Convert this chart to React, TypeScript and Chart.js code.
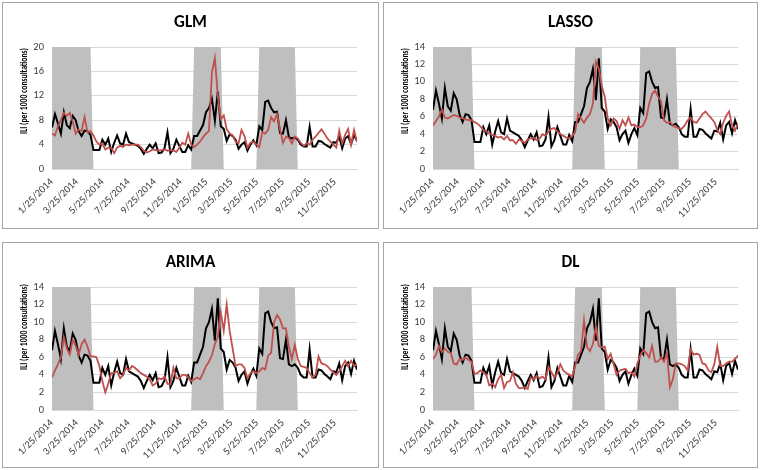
import React, { useEffect, useRef } from 'react';
import { Chart, registerables } from 'chart.js';

Chart.register(...registerables);

// ---------- data ----------
const START_DATE = '1/25/2014';
const WEEK_DAYS = 7;
const TICK_LABELS = [
  '1/25/2014', '3/25/2014', '5/25/2014', '7/25/2014', '9/25/2014', '11/25/2014',
  '1/25/2015', '3/25/2015', '5/25/2015', '7/25/2015', '9/25/2015', '11/25/2015',
];
const Y_TITLE = 'ILI (per 1000 consultations)';

const OBSERVED = [
  6.8, 9.0, 7.5, 5.8, 9.3, 7.2, 6.7, 8.7, 8.0, 6.2, 5.4, 6.3, 6.2, 5.6,
  3.1, 3.1, 3.1,
  4.8, 4.0, 5.0, 2.8, 4.3, 5.5, 4.2, 4.0, 5.8, 4.4, 4.2, 4.0, 3.8, 3.3, 2.5, 3.3,
  4.0, 3.4, 4.2, 2.6, 2.7, 3.4, 6.0, 2.6, 3.3, 4.8, 3.8, 2.8, 2.8, 3.9, 3.2,
  5.4, 5.4, 6.3, 7.2, 9.3, 10.0, 11.5, 7.9, 12.7, 7.0, 6.6, 4.6, 5.7, 5.4, 4.8,
  3.3, 4.0, 4.4, 3.0, 4.0, 4.7, 3.9, 7.0, 6.4, 11.0, 11.2, 10.0, 9.3, 9.4, 5.9,
  5.8, 8.0, 5.2, 5.0, 5.2, 4.8, 4.0, 3.7, 3.7, 6.9, 3.7, 3.7, 4.6, 4.5, 4.1, 3.8,
  3.5, 4.4, 4.3, 5.3, 3.4, 5.0, 5.4, 4.1, 5.6, 4.6,
];

const GLM = [
  5.8, 5.5, 7.0, 8.0, 9.2, 8.7, 9.2, 7.8, 5.8, 6.5, 6.2, 8.5, 6.0, 6.2,
  5.5, 4.5, 4.0, 4.2, 3.2, 3.5, 3.5, 2.6, 3.5, 3.8, 3.6, 4.0, 3.9, 4.0, 4.0, 4.0,
  3.6, 3.0, 2.7, 2.9, 3.2, 3.1, 3.0, 3.1, 3.2, 3.0, 3.1, 3.0, 2.8, 3.5, 4.3, 4.0,
  5.8, 4.0, 3.6, 4.0, 4.5, 5.2, 5.8, 6.2, 15.8, 18.2, 12.0, 8.2, 8.8, 6.5, 5.8,
  5.5, 4.5, 4.2, 6.4, 5.4, 3.5, 4.3, 4.5, 4.0, 3.6, 6.0, 5.8, 6.4, 8.5, 7.8, 9.0,
  6.5, 4.3, 5.3, 5.1, 4.2, 5.3, 5.0, 4.3, 3.8, 4.2, 4.0, 4.8, 5.3, 5.9, 6.5, 5.8,
  5.0, 4.5, 4.0, 3.5, 6.3, 4.2, 5.6, 6.6, 4.0, 6.4, 4.4,
];

const LASSO = [
  5.0, 5.5, 6.0, 6.8, 5.9, 5.8, 6.0, 6.2, 6.1, 5.9, 5.8, 5.7, 5.6, 5.6,
  5.4, 5.2, 4.9, 4.5, 4.3, 4.1, 3.9, 3.8, 3.6, 3.7, 3.4, 3.8, 3.3, 3.3, 2.9, 3.4,
  3.2, 3.0, 3.4, 3.5, 3.6, 3.3, 3.5, 4.0, 3.8, 4.3, 4.6, 4.7, 4.3, 4.0, 3.8, 3.6,
  3.5, 3.8, 4.2, 6.3, 5.8, 5.3, 5.9, 6.3, 7.5, 12.3, 11.5, 9.5, 8.3, 5.8, 5.0,
  5.8, 5.5, 4.6, 5.6, 5.0, 5.9, 5.0, 5.1, 4.8, 4.8, 5.0, 5.8, 7.5, 8.6, 9.0, 8.3,
  7.8, 5.6, 5.3, 5.4, 5.0, 4.8, 4.7, 4.6, 5.0, 5.6, 5.9, 5.4, 5.3, 5.8, 6.3, 6.6,
  6.2, 5.8, 5.4, 4.5, 4.0, 5.3, 6.1, 6.6, 5.0, 4.4, 5.2,
];

const ARIMA = [
  3.7, 4.5, 5.2, 6.0, 8.3, 7.0, 6.3, 8.0, 7.3, 6.3, 7.5, 8.0, 7.2, 6.1,
  6.1, 6.0, 5.0, 3.3, 2.0, 3.0, 4.2, 4.2, 4.4, 3.6, 4.0, 4.8, 4.5, 5.0, 4.8, 4.5,
  4.2, 4.0, 3.8, 3.5, 2.8, 3.0, 3.6, 3.5, 3.8, 3.0, 2.9, 4.8, 3.6, 3.6, 4.0, 4.0,
  3.7, 3.3, 3.5, 3.7, 3.5, 4.2, 5.0, 5.5, 6.2, 7.5, 8.3, 11.1, 9.0, 12.0, 9.0,
  7.0, 5.0, 5.2, 5.2, 4.8, 3.6, 4.2, 4.4, 4.2, 4.4, 4.8, 4.6, 6.2, 6.5, 10.0, 10.8,
  10.3, 9.3, 9.3, 7.2, 5.8, 7.4, 5.8, 5.0, 4.9, 4.8, 4.2, 3.7, 4.0, 6.1, 5.3, 5.2,
  5.0, 4.6, 4.3, 4.0, 4.4, 5.0, 5.6, 5.0, 5.6, 5.0, 5.2,
];

const DL = [
  5.8, 6.3, 7.3, 6.6, 7.0, 6.6, 6.5, 5.3, 5.2, 5.8, 5.7, 6.0, 5.7, 5.5,
  4.1, 4.2, 4.5, 4.3, 4.0, 2.8, 3.0, 2.6, 3.5, 4.0, 2.5, 3.2, 3.3, 4.3, 3.0, 2.5,
  2.5, 2.6, 2.4, 3.7, 3.5, 3.9, 3.6, 3.8, 3.5, 4.9, 4.3, 3.7, 4.2, 5.2, 4.5, 4.2,
  4.0, 3.8, 5.0, 6.3, 6.7, 10.2, 7.2, 6.7, 7.5, 9.5, 7.3, 7.1, 7.2, 5.8, 6.4,
  5.2, 4.0, 4.5, 4.6, 4.7, 4.2, 4.3, 3.8, 5.3, 6.2, 6.8, 6.5, 6.0, 7.3, 5.5, 5.5,
  6.0, 5.5, 6.5, 2.6, 3.5, 5.3, 5.3, 5.2, 5.0, 4.5, 6.9, 6.3, 6.4, 6.3, 5.3, 5.2,
  4.5, 4.3, 5.2, 7.2, 5.0, 5.0, 5.3, 5.5, 5.5, 5.8, 6.2,
];

// 1 = influenza season week (shaded), 0 = off season
const SEASON = [
  1, 1, 1, 1, 1, 1, 1, 1, 1, 1, 1, 1, 1, 1,
  0, 0, 0, 0, 0, 0, 0, 0, 0, 0, 0, 0, 0, 0, 0, 0, 0, 0, 0, 0,
  0, 0, 0, 0, 0, 0, 0, 0, 0, 0, 0, 0, 0, 0,
  1, 1, 1, 1, 1, 1, 1, 1, 1, 1,
  0, 0, 0, 0, 0, 0, 0, 0, 0, 0, 0, 0,
  1, 1, 1, 1, 1, 1, 1, 1, 1, 1, 1, 1, 1,
  0, 0, 0, 0, 0, 0, 0, 0, 0, 0, 0, 0, 0, 0, 0, 0, 0, 0, 0, 0, 0,
];

const PANEL_TITLES = ['GLM', 'LASSO', 'ARIMA', 'DL'];
const PANEL_PREDICTIONS = [GLM, LASSO, ARIMA, DL];
const PANEL_YMAX = [20, 14, 14, 14];

// ---------- layout / style ----------
const FONT = 'Carlito, Calibri, Lato, sans-serif';
const LAYOUT = [
  { left: 2, top: 2, width: 377, height: 227, plotBottom: 166, yTitleY: 88 },
  { left: 383, top: 2, width: 375, height: 227, plotBottom: 166, yTitleY: 88 },
  { left: 2, top: 242, width: 377, height: 226, plotBottom: 167, yTitleY: 84 },
  { left: 383, top: 242, width: 375, height: 226, plotBottom: 167, yTitleY: 84 },
];

const parseDay = (s: string) => {
  const [m, d, y] = s.split('/').map(Number);
  return Date.UTC(y, m - 1, d) / 86400000;
};
const BASE_DAY = parseDay(START_DATE);
const TICK_DAYS = TICK_LABELS.map((l) => parseDay(l) - BASE_DAY);

const textPlugin = {
  id: 'panelText',
  afterDraw(chart: any, _args: any, opts: any) {
    const ctx = chart.ctx;
    ctx.save();
    ctx.fillStyle = '#000';
    ctx.textAlign = 'center';
    ctx.textBaseline = 'middle';
    ctx.font = `bold 17px ${FONT}`;
    ctx.fillText(opts.title, chart.width / 2, 20);
    ctx.translate(21, opts.yTitleY);
    ctx.rotate(-Math.PI / 2);
    ctx.font = `bold 10px ${FONT}`;
    ctx.fillText(Y_TITLE, 0, 0, 86);
    ctx.restore();
  },
};

function Panel({ index }: { index: number }) {
  const ref = useRef<HTMLCanvasElement | null>(null);
  const lay = LAYOUT[index];
  const cw = lay.width - 2;
  const ch = lay.height - 2;
  useEffect(() => {
    if (!ref.current) return;
    const yMax = PANEL_YMAX[index];
    const toPts = (arr: number[]) => arr.map((v, i) => ({ x: i * WEEK_DAYS, y: v }));
    const lastDay = (OBSERVED.length - 1) * WEEK_DAYS;
    const chart = new Chart(ref.current, {
      type: 'line',
      data: {
        datasets: [
          {
            data: toPts(PANEL_PREDICTIONS[index]),
            borderColor: '#c0504d',
            borderWidth: 1.8,
            pointRadius: 0,
            tension: 0,
            fill: false,
          },
          {
            data: toPts(OBSERVED),
            borderColor: '#000000',
            borderWidth: 2,
            pointRadius: 0,
            tension: 0,
            fill: false,
          },
          {
            data: toPts(SEASON.map((f) => f * yMax)),
            borderWidth: 0,
            borderColor: 'rgba(0,0,0,0)',
            backgroundColor: '#bfbfbf',
            pointRadius: 0,
            tension: 0,
            fill: 'origin',
          },
        ],
      },
      options: {
        responsive: false,
        animation: false,
        devicePixelRatio: 1,
        layout: { padding: { top: 44, right: cw - 354, left: 0, bottom: 0 } },
        plugins: {
          legend: { display: false },
          tooltip: { enabled: false },
          panelText: { title: PANEL_TITLES[index], yTitleY: lay.yTitleY },
        } as any,
        scales: {
          x: {
            type: 'linear',
            min: 0,
            max: lastDay,
            afterBuildTicks: (s: any) => {
              s.ticks = TICK_DAYS.map((v) => ({ value: v }));
            },
            afterFit: (s: any) => {
              s.height = ch - lay.plotBottom;
            },
            ticks: {
              autoSkip: false,
              maxRotation: 45,
              minRotation: 45,
              padding: 7,
              color: '#404040',
              font: { size: 10.5, family: FONT },
              callback: (v: any) => {
                const i = TICK_DAYS.indexOf(Number(v));
                return i >= 0 ? TICK_LABELS[i] : '';
              },
            },
            grid: { display: false, drawTicks: false },
            border: { display: true, color: '#d9d9d9' },
          },
          y: {
            min: 0,
            max: yMax,
            afterFit: (s: any) => {
              s.width = 49;
            },
            ticks: {
              stepSize: 2,
              padding: 8,
              color: '#404040',
              font: { size: 10.5, family: FONT },
            },
            grid: { color: '#d9d9d9', drawTicks: false },
            border: { display: false },
          },
        },
      },
      plugins: [textPlugin],
    } as any);
    return () => chart.destroy();
  }, [index]);
  return (
    <div
      style={{
        position: 'absolute',
        left: lay.left,
        top: lay.top,
        width: lay.width,
        height: lay.height,
        boxSizing: 'border-box',
        border: '1px solid #a6a6a6',
        background: '#fff',
      }}
    >
      <canvas ref={ref} width={cw} height={ch} style={{ display: 'block', width: cw, height: ch }} />
    </div>
  );
}

export default function App() {
  return (
    <div style={{ position: 'fixed', left: 0, top: 0, width: 760, height: 470, background: '#fff' }}>
      {[0, 1, 2, 3].map((i) => (
        <Panel key={i} index={i} />
      ))}
    </div>
  );
}
